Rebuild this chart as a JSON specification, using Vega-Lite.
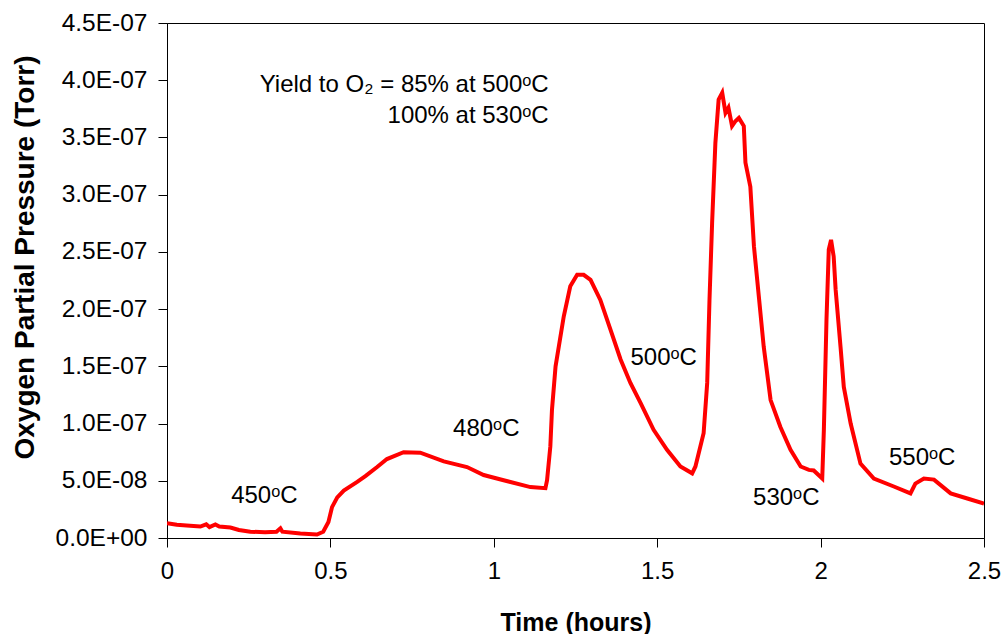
{
  "$schema": "https://vega.github.io/schema/vega-lite/v6.json",
  "autosize": {"type": "none"},
  "padding": {"left": 167, "top": 23, "right": 20, "bottom": 96},
  "width": 817,
  "height": 515,
  "background": "white",
  "config": {
    "font": "Liberation Sans",
    "view": {"stroke": "black", "strokeWidth": 1},
    "axis": {"grid": false, "domainColor": "black", "tickColor": "black", "labelColor": "black", "titleColor": "black", "tickSize": 9, "domainWidth": 1, "tickWidth": 1, "labelFont": "Liberation Sans", "titleFont": "Liberation Sans"}
  },
  "datasets": {
    "curve": [
      {"t": 0.0, "p": 1.3e-8},
      {"t": 0.03, "p": 1.15e-8},
      {"t": 0.06, "p": 1.1e-8},
      {"t": 0.102, "p": 1.0e-8},
      {"t": 0.12, "p": 1.2e-8},
      {"t": 0.13, "p": 0.95e-8},
      {"t": 0.148, "p": 1.18e-8},
      {"t": 0.16, "p": 1.0e-8},
      {"t": 0.194, "p": 0.92e-8},
      {"t": 0.22, "p": 0.7e-8},
      {"t": 0.255, "p": 0.55e-8},
      {"t": 0.3, "p": 0.5e-8},
      {"t": 0.335, "p": 0.55e-8},
      {"t": 0.347, "p": 0.85e-8},
      {"t": 0.353, "p": 0.55e-8},
      {"t": 0.408, "p": 0.4e-8},
      {"t": 0.459, "p": 0.3e-8},
      {"t": 0.478, "p": 0.55e-8},
      {"t": 0.494, "p": 1.4e-8},
      {"t": 0.505, "p": 2.7e-8},
      {"t": 0.521, "p": 3.55e-8},
      {"t": 0.541, "p": 4.15e-8},
      {"t": 0.582, "p": 4.9e-8},
      {"t": 0.607, "p": 5.4e-8},
      {"t": 0.643, "p": 6.2e-8},
      {"t": 0.673, "p": 6.9e-8},
      {"t": 0.724, "p": 7.5e-8},
      {"t": 0.775, "p": 7.45e-8},
      {"t": 0.847, "p": 6.7e-8},
      {"t": 0.918, "p": 6.2e-8},
      {"t": 0.969, "p": 5.5e-8},
      {"t": 1.03, "p": 5.05e-8},
      {"t": 1.112, "p": 4.45e-8},
      {"t": 1.158, "p": 4.35e-8},
      {"t": 1.163, "p": 5.05e-8},
      {"t": 1.173, "p": 8.0e-8},
      {"t": 1.178, "p": 11.2e-8},
      {"t": 1.189, "p": 15.0e-8},
      {"t": 1.214, "p": 19.35e-8},
      {"t": 1.234, "p": 22.0e-8},
      {"t": 1.255, "p": 23.0e-8},
      {"t": 1.275, "p": 23.0e-8},
      {"t": 1.296, "p": 22.55e-8},
      {"t": 1.326, "p": 20.8e-8},
      {"t": 1.357, "p": 18.2e-8},
      {"t": 1.388, "p": 15.6e-8},
      {"t": 1.418, "p": 13.55e-8},
      {"t": 1.449, "p": 11.8e-8},
      {"t": 1.489, "p": 9.45e-8},
      {"t": 1.53, "p": 7.7e-8},
      {"t": 1.571, "p": 6.25e-8},
      {"t": 1.607, "p": 5.65e-8},
      {"t": 1.617, "p": 6.25e-8},
      {"t": 1.642, "p": 9.15e-8},
      {"t": 1.653, "p": 13.55e-8},
      {"t": 1.66, "p": 20.8e-8},
      {"t": 1.668, "p": 27.5e-8},
      {"t": 1.678, "p": 34.5e-8},
      {"t": 1.688, "p": 38.3e-8},
      {"t": 1.699, "p": 38.9e-8},
      {"t": 1.709, "p": 37.15e-8},
      {"t": 1.718, "p": 37.6e-8},
      {"t": 1.729, "p": 36.0e-8},
      {"t": 1.739, "p": 36.4e-8},
      {"t": 1.75, "p": 36.7e-8},
      {"t": 1.765, "p": 36.0e-8},
      {"t": 1.77, "p": 32.8e-8},
      {"t": 1.785, "p": 30.7e-8},
      {"t": 1.796, "p": 25.5e-8},
      {"t": 1.811, "p": 21.1e-8},
      {"t": 1.826, "p": 16.7e-8},
      {"t": 1.847, "p": 12.05e-8},
      {"t": 1.877, "p": 9.7e-8},
      {"t": 1.908, "p": 7.7e-8},
      {"t": 1.939, "p": 6.25e-8},
      {"t": 1.964, "p": 5.95e-8},
      {"t": 1.979, "p": 5.9e-8},
      {"t": 2.005, "p": 5.2e-8},
      {"t": 2.01, "p": 9.45e-8},
      {"t": 2.018, "p": 19.05e-8},
      {"t": 2.025, "p": 25.2e-8},
      {"t": 2.032, "p": 26.05e-8},
      {"t": 2.04, "p": 24.6e-8},
      {"t": 2.046, "p": 21.7e-8},
      {"t": 2.061, "p": 16.7e-8},
      {"t": 2.071, "p": 13.2e-8},
      {"t": 2.092, "p": 10.0e-8},
      {"t": 2.122, "p": 6.5e-8},
      {"t": 2.163, "p": 5.2e-8},
      {"t": 2.224, "p": 4.5e-8},
      {"t": 2.275, "p": 3.9e-8},
      {"t": 2.29, "p": 4.75e-8},
      {"t": 2.316, "p": 5.2e-8},
      {"t": 2.347, "p": 5.1e-8},
      {"t": 2.398, "p": 3.9e-8},
      {"t": 2.449, "p": 3.45e-8},
      {"t": 2.5, "p": 3.0e-8}
    ],
    "labels": [
      {"t": 0.298, "p": 3.03e-8, "txt": "450ᵒC"},
      {"t": 0.977, "p": 8.91e-8, "txt": "480ᵒC"},
      {"t": 1.52, "p": 15.12e-8, "txt": "500ᵒC"},
      {"t": 1.895, "p": 2.88e-8, "txt": "530ᵒC"},
      {"t": 2.311, "p": 6.38e-8, "txt": "550ᵒC"}
    ],
    "notes": [
      {"t": 1.168, "p": 39.0e-8, "txt": "Yield to O₂ = 85% at 500ᵒC"},
      {"t": 1.168, "p": 36.25e-8, "txt": "100% at 530ᵒC"}
    ]
  },
  "layer": [
    {
      "data": {"name": "curve"},
      "mark": {"type": "line", "color": "#ff0000", "strokeWidth": 4, "clip": true},
      "encoding": {
        "x": {
          "field": "t", "type": "quantitative",
          "scale": {"domain": [0, 2.5], "nice": false},
          "axis": {"values": [0, 0.5, 1, 1.5, 2, 2.5], "format": "~g", "labelFontSize": 24, "labelPadding": 12, "title": "Time (hours)", "titleFontSize": 25, "titleFontWeight": "bold", "titleBaseline": "alphabetic", "titleY": 92, "labelFlush": false}
        },
        "y": {
          "field": "p", "type": "quantitative",
          "scale": {"domain": [0, 4.5e-7], "nice": false},
          "axis": {
            "values": [0, 5e-8, 1e-7, 1.5e-7, 2e-7, 2.5e-7, 3e-7, 3.5e-7, 4e-7, 4.5e-7],
            "labelExpr": "datum.value == 0 ? '0.0E+00' : replace(upper(format(datum.value, '.1e')), 'E-', 'E-0')",
            "labelFontSize": 24.5, "labelPadding": 11, "labelBaseline": "middle", "labelFlush": false,
            "title": "Oxygen Partial Pressure (Torr)", "titleFontSize": 28, "titleFontWeight": "bold",
            "titleLimit": 1000, "titleX": -128, "titleY": 234
          }
        }
      }
    },
    {
      "data": {"name": "labels"},
      "mark": {"type": "text", "fontSize": 24, "baseline": "alphabetic", "align": "center", "color": "black"},
      "encoding": {
        "x": {"field": "t", "type": "quantitative"},
        "y": {"field": "p", "type": "quantitative"},
        "text": {"field": "txt"}
      }
    },
    {
      "data": {"name": "notes"},
      "mark": {"type": "text", "fontSize": 24, "baseline": "alphabetic", "align": "right", "color": "black"},
      "encoding": {
        "x": {"field": "t", "type": "quantitative"},
        "y": {"field": "p", "type": "quantitative"},
        "text": {"field": "txt"}
      }
    }
  ]
}
